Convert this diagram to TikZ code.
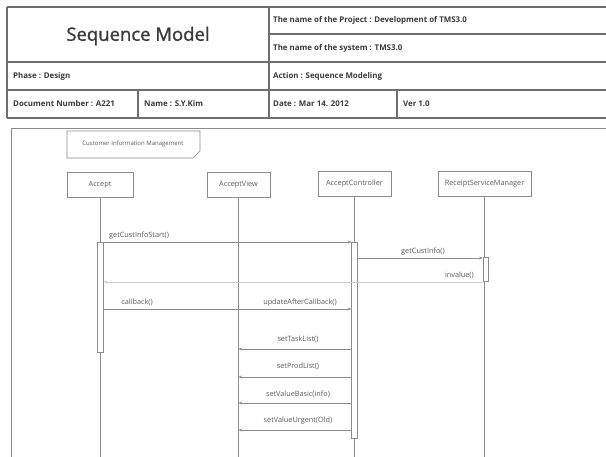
\documentclass[tikz,border=0pt]{standalone}
\usepackage{fontspec}
\setsansfont{Open Sans}
\newfontfamily\titlefont[FakeBold=1.2]{Open Sans}
\usetikzlibrary{arrows.meta}
\definecolor{hline}{HTML}{6E6E6E}
\definecolor{htext}{HTML}{3A3A3A}
\definecolor{dline}{HTML}{8C8C8C}
\definecolor{dtext}{HTML}{5A5A5A}
\tikzset{
  hdr/.style={draw=hline, line width=1.3pt},
  htxt/.style={anchor=west, inner sep=0pt, text=htext, font=\sffamily\bfseries\fontsize{7.9}{9}\selectfont},
  dia/.style={draw=dline, line width=0.6pt},
  head/.style={draw=dline, line width=0.6pt, minimum height=25pt, inner sep=1pt, text=dtext, font=\sffamily\fontsize{7.3}{8}\selectfont},
  act/.style={draw=dline, line width=0.6pt, fill=white, minimum width=6pt, inner sep=0pt},
  msg/.style={draw=dline, line width=0.6pt, -{Stealth[length=3.5pt,width=3pt]}},
  ret/.style={draw=dline!45, line width=0.6pt, -{Stealth[length=3.5pt,width=3pt]}},
  mlab/.style={inner sep=0pt, text=dtext, font=\sffamily\fontsize{7.3}{8}\selectfont},
}
\begin{document}
\begin{tikzpicture}[x=1pt,y=-1pt]
\useasboundingbox (0,0) rectangle (606,457);
\fill[white] (0,0) rectangle (606,457);
% header table
\draw[hdr] (7,7) -- (606,7);
\draw[hdr] (269,34) -- (606,34);
\draw[hdr] (7,62) -- (606,62);
\draw[hdr] (7,90) -- (606,90);
\draw[hdr] (7,118) -- (606,118);
\draw[hdr] (7,7) -- (7,118);
\draw[hdr] (269,7) -- (269,118);
\draw[hdr] (138,90) -- (138,118);
\draw[hdr] (397,90) -- (397,118);
\node[inner sep=0pt, text=htext, font=\titlefont\fontsize{18.5}{21}\selectfont] (title) at (138,36) {Sequence Model};
\node[htxt] (proj) at (273,20) {The name of the Project : Development of TMS3.0};
\node[htxt] (sys) at (273,48) {The name of the system : TMS3.0};
\node[htxt] (phase) at (13,76) {Phase : Design};
\node[htxt] (action) at (273,76) {Action : Sequence Modeling};
\node[htxt] (docnum) at (13,104) {Document Number : A221};
\node[htxt] (name) at (144,104) {Name : S.Y.Kim};
\node[htxt] (date) at (273,104) {Date : Mar 14. 2012};
\node[htxt] (ver) at (403,104) {Ver 1.0};
% diagram frame
\draw[dia, line width=0.9pt] (11,457) -- (11,128) -- (606,128);
\draw[dia] (67,131) -- (200,131) -- (200,151) -- (193,158) -- (67,158) -- cycle;
\node[mlab, font=\sffamily\fontsize{6}{7}\selectfont] (frame) at (133,144) {Customer Information Management};
% lifeline heads
\node[head, minimum width=66pt] (accept) at (100,184.5) {Accept};
\node[head, minimum width=63pt] (view) at (238.5,184.5) {AcceptView};
\node[head, minimum width=73pt] (ctrl) at (354.5,183.5) {AcceptController};
\node[head, minimum width=93pt] (rsm) at (484.5,183.5) {ReceiptServiceManager};
% lifelines
\draw[dia] (accept.south) -- (accept.south |- 0,457);
\draw[dia] (view.south) -- (view.south |- 0,457);
\draw[dia] (ctrl.south) -- (ctrl.south |- 0,457);
\draw[dia] (rsm.south) -- (rsm.south |- 0,457);
% activation bars
\node[act, minimum height=110pt, anchor=north] (actA) at (100.5,242) {};
\node[act, minimum height=196pt, anchor=north] (actC) at (354.5,242) {};
\node[act, minimum height=24pt, minimum width=5pt, anchor=north] (actR) at (485.5,257) {};
% messages
\draw[msg] (actA.east |- 0,242) -- (actC.west |- 0,242);
\node[mlab, anchor=south west] (l1) at (109,239.5) {getCustInfoStart()};
\draw[msg] (actC.east |- 0,258) -- (actR.west |- 0,258);
\node[mlab, anchor=south] (l2) at (423,255) {getCustInfo()};
\draw[ret] (actR.west |- 0,282) -- (actA.east |- 0,282);
\node[mlab, anchor=south east] (l3) at (474,278.5) {invalue()};
\draw[msg] (actA.east |- 0,309) -- (actC.west |- 0,309);
\node[mlab, anchor=south] (l4) at (137,306) {callback()};
\node[mlab, anchor=south] (l5) at (300,306) {updateAfterCallback()};
\draw[msg] (actC.west |- 0,349) -- (view.south |- 0,349);
\node[mlab, anchor=south] (l6) at (298,343) {setTaskList()};
\draw[msg] (actC.west |- 0,377) -- (view.south |- 0,377);
\node[mlab, anchor=south] (l7) at (298,370) {setProdList()};
\draw[msg] (actC.west |- 0,403) -- (view.south |- 0,403);
\node[mlab, anchor=south] (l8) at (298,398) {setValueBasic(info)};
\draw[msg] (actC.west |- 0,430) -- (view.south |- 0,430);
\node[mlab, anchor=south] (l9) at (298,424) {setValueUrgent(Old)};
\end{tikzpicture}
\end{document}
